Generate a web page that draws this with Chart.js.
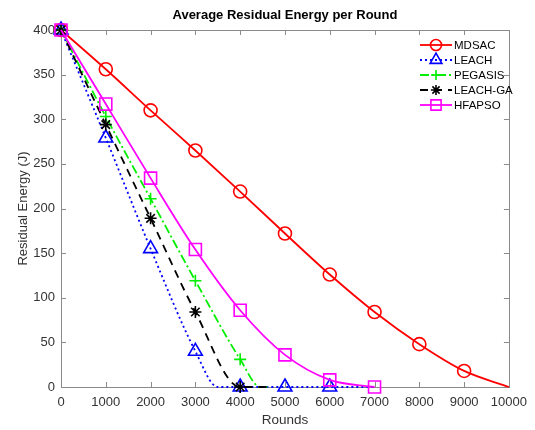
<!DOCTYPE html>
<html><head><meta charset="utf-8">
<script src="https://cdn.jsdelivr.net/npm/chart.js@4.4.0/dist/chart.umd.min.js"></script>
<style>html,body{margin:0;padding:0;background:#fff}#wrap{width:535px;height:430px;position:relative}</style>
</head><body><div id="wrap"><canvas id="c"></canvas></div>
<script>
// ---- data ----
const xTickValues = [0,1000,2000,3000,4000,5000,6000,7000,8000,9000,10000];
const yTickValues = [0,50,100,150,200,250,300,350,400];
const seriesNames = ['MDSAC','LEACH','PEGASIS','LEACH-GA','HFAPSO'];
const mdsacX   = [0,1000,2000,3000,4000,5000,6000,7000,8000,9000,10000];
const mdsacY   = [400,356,310,265,219,172,126,84,48,18,0];
const leachX   = [0,1000,2000,3000,3500,4000,5000,6000,7000];
const leachY   = [400,279,155,40,0,0,0,0,0];
const pegasisX = [0,1000,2000,3000,4000,4450,4650];
const pegasisY = [400,303,211,119,31,0,0];
const leachGaX = [0,1000,2000,3000,4000,4600];
const leachGaY = [400,294,189,84,0,0];
const hfapsoX  = [0,1000,2000,3000,4000,5000,6000,7000];
const hfapsoY  = [400,317,234,154,86,36,8,0];

const pts = (xs, ys) => xs.map((x, i) => ({x, y: ys[i]}));

// ---- styles ----
const styles = [
  {color:'#ff0000', dash:[], marker:'circle', r:6.5, lastMark:9000},
  {color:'#0000ff', dash:[2,3], marker:'triangle', r:8, lastMark:6000},
  {color:'#00ee00', dash:[9,3,2,3], marker:'cross', r:6, lastMark:4000},
  {color:'#000000', dash:[8,6], marker:'star', r:6, lastMark:4000},
  {color:'#ff00ff', dash:[], marker:'rect', r:8.5, lastMark:7000}
];
const seriesData = [pts(mdsacX,mdsacY), pts(leachX,leachY), pts(pegasisX,pegasisY), pts(leachGaX,leachGaY), pts(hfapsoX,hfapsoY)];

const datasets = seriesNames.map((name, i) => {
  const s = styles[i];
  return {
    label: name,
    data: seriesData[i],
    borderColor: s.color,
    borderWidth: 1.8,
    borderDash: s.dash,
    cubicInterpolationMode: 'monotone',
    fill: false,
    pointStyle: s.marker,
    pointBorderColor: s.color,
    pointBackgroundColor: 'rgba(0,0,0,0)',
    pointBorderWidth: 1.6,
    pointRadius: (ctx) => {
      const p = ctx.raw;
      return p && p.x % 1000 === 0 && p.x <= s.lastMark ? s.r : 0;
    },
    order: seriesNames.length - i,
    clip: false
  };
});

function drawMarker(ctx, style, x, y, r) {
  ctx.beginPath();
  if (style === 'circle') {
    ctx.arc(x, y, r, 0, Math.PI*2);
  } else if (style === 'triangle') {
    ctx.moveTo(x, y - r);
    ctx.lineTo(x + r*Math.cos(Math.PI/6), y + r*0.5);
    ctx.lineTo(x - r*Math.cos(Math.PI/6), y + r*0.5);
    ctx.closePath();
  } else if (style === 'cross') {
    ctx.moveTo(x - r, y); ctx.lineTo(x + r, y);
    ctx.moveTo(x, y - r); ctx.lineTo(x, y + r);
  } else if (style === 'star') {
    ctx.moveTo(x - r, y); ctx.lineTo(x + r, y);
    ctx.moveTo(x, y - r); ctx.lineTo(x, y + r);
    const d = r*Math.SQRT1_2;
    ctx.moveTo(x - d, y - d); ctx.lineTo(x + d, y + d);
    ctx.moveTo(x - d, y + d); ctx.lineTo(x + d, y - d);
  } else if (style === 'rect') {
    const h = r*Math.SQRT1_2;
    ctx.rect(x - h, y - h, 2*h, 2*h);
  }
  ctx.stroke();
}

const axesPlugin = {
  id: 'axesBox',
  beforeDatasetsDraw(chart) {
    const {ctx, chartArea: a, scales} = chart;
    ctx.save();
    ctx.strokeStyle = '#8a8a8a';
    ctx.lineWidth = 1;
    ctx.strokeRect(Math.round(a.left)+0.5, Math.round(a.top)+0.5, Math.round(a.right-a.left), Math.round(a.bottom-a.top));
    const tl = 5;
    ctx.beginPath();
    xTickValues.forEach(v => {
      const px = Math.round(scales.x.getPixelForValue(v)) + 0.5;
      ctx.moveTo(px, a.bottom); ctx.lineTo(px, a.bottom - tl);
      ctx.moveTo(px, a.top); ctx.lineTo(px, a.top + tl);
    });
    yTickValues.forEach(v => {
      const py = Math.round(scales.y.getPixelForValue(v)) + 0.5;
      ctx.moveTo(a.left, py); ctx.lineTo(a.left + tl, py);
      ctx.moveTo(a.right, py); ctx.lineTo(a.right - tl, py);
    });
    ctx.stroke();
    ctx.restore();
  },
  afterDatasetsDraw(chart) {
    const {ctx, chartArea: a} = chart;
    ctx.save();
    // title
    ctx.fillStyle = '#000';
    ctx.font = 'bold 13px "Liberation Sans", Arial, sans-serif';
    ctx.textAlign = 'center';
    ctx.textBaseline = 'middle';
    ctx.fillText('Average Residual Energy per Round', (a.left + a.right)/2, 15);
    // legend
    const lx0 = 420, lx1 = 452, ly0 = 45, dy = 15;
    ctx.font = '11.5px "Liberation Sans", Arial, sans-serif';
    ctx.textAlign = 'left';
    seriesNames.forEach((name, i) => {
      const s = styles[i];
      const y = ly0 + i*dy;
      ctx.strokeStyle = s.color;
      ctx.lineWidth = 1.8;
      ctx.setLineDash(s.dash);
      ctx.beginPath(); ctx.moveTo(lx0, y); ctx.lineTo(lx1, y); ctx.stroke();
      ctx.setLineDash([]);
      ctx.lineWidth = 1.6;
      drawMarker(ctx, s.marker, (lx0+lx1)/2, y, s.r*0.85);
      ctx.fillStyle = '#000';
      ctx.fillText(name, 454, y + 0.5);
    });
    ctx.restore();
  }
};

const tickFont = {family: '"Liberation Sans", Arial, sans-serif', size: 13};
new Chart(document.getElementById('c'), {
  type: 'line',
  data: {datasets},
  options: {
    responsive: true,
    maintainAspectRatio: false,
    animation: false,
    events: [],
    layout: {padding: {left: 0, right: 24, top: 30, bottom: 0}},
    plugins: {legend: {display: false}, tooltip: {enabled: false}, title: {display: false}},
    scales: {
      x: {
        type: 'linear', min: 0, max: 10000,
        afterBuildTicks: (sc) => { sc.ticks = xTickValues.map(v => ({value: v})); },
        afterFit: (sc) => { sc.height = 43; },
        grid: {display: false, drawTicks: false},
        border: {display: false},
        ticks: {color: '#333', font: tickFont, padding: 8, maxRotation: 0, autoSkip: false, callback: (v) => String(v)},
        title: {display: true, text: 'Rounds', color: '#333', font: {family: tickFont.family, size: 13.5}, padding: {top: 0, bottom: 2}}
      },
      y: {
        type: 'linear', min: 0, max: 400,
        afterBuildTicks: (sc) => { sc.ticks = yTickValues.map(v => ({value: v})); },
        afterFit: (sc) => { sc.width = 61; },
        grid: {display: false, drawTicks: false},
        border: {display: false},
        ticks: {color: '#333', font: tickFont, padding: 6, autoSkip: false, callback: (v) => String(v)},
        title: {display: true, text: 'Residual Energy (J)', color: '#333', font: {family: tickFont.family, size: 13}, padding: {top: 16, bottom: 0}}
      }
    }
  },
  plugins: [axesPlugin]
});
</script>
</body></html>
